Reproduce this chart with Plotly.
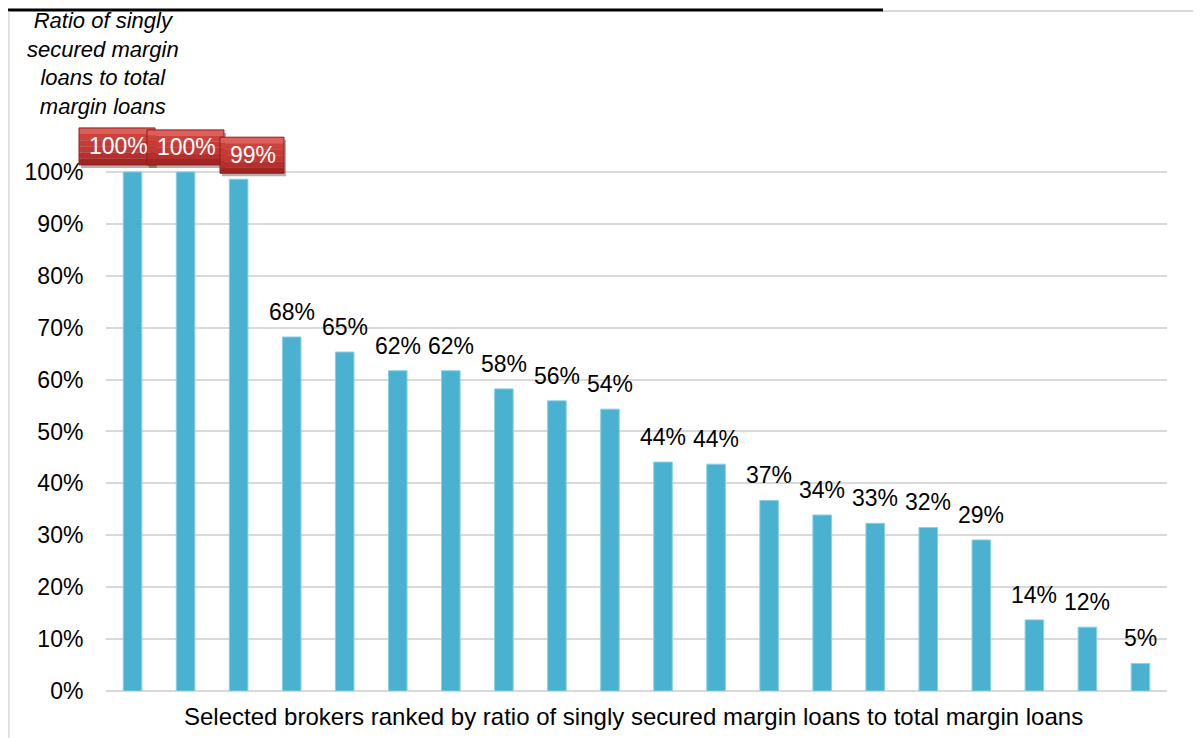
import plotly.graph_objects as go

brokers = [f"Broker {i}" for i in range(1, 21)]
ratios = [100, 100, 98.6, 68.2, 65.3, 61.7, 61.7, 58.2, 55.9, 54.3,
          44.1, 43.7, 36.7, 33.9, 32.3, 31.5, 29.1, 13.7, 12.3, 5.3]
labels = ["100%", "100%", "99%", "68%", "65%", "62%", "62%", "58%", "56%", "54%",
          "44%", "44%", "37%", "34%", "33%", "32%", "29%", "14%", "12%", "5%"]
highlight = [0, 1, 2]

y_ticks = list(range(0, 101, 10))
y_ticktext = [f"{v}%" for v in y_ticks]

FONT = "Liberation Sans, Arial, sans-serif"
TXT = 23

# callout box geometry (pixel offsets relative to bar centre / bar top)
box_x = [(-53.5, 22.5), (-38.6, 38.4), (-18.6, 45.4)]
box_y = [(7, 44), (7, 42), (6, 42)]

fig = go.Figure()
fig.add_trace(go.Bar(
    x=brokers, y=ratios,
    marker=dict(color="#4BB1D0", line=dict(color="#8ccfe4", width=1)),
    width=0.35,
    hoverinfo="skip",
    cliponaxis=False,
))

annotations = []
shapes = []
band_cols = ["#dc5f5a", "#cd423d", "#c73b37", "#c13834", "#b5302c", "#9f2622"]
n_cat = len(brokers)
for i, (b, v, t) in enumerate(zip(brokers, ratios, labels)):
    if i in highlight:
        k = highlight.index(i)
        x0, x1 = box_x[k]
        y0, y1 = box_y[k]
        # category centre expressed as a fraction of the x domain (range -0.5 .. n-0.5)
        xa = (i + 0.5) / n_cat
        common = dict(xref="x domain", yref="y", xsizemode="pixel", ysizemode="pixel",
                      xanchor=xa, yanchor=v, layer="above")
        # shadow
        shapes.append(dict(type="rect", x0=x0 + 2, x1=x1 + 2, y0=y0 - 3, y1=y1 - 3,
                           fillcolor="rgba(60,20,20,0.35)", line=dict(width=0), **common))
        # gradient bands
        n = len(band_cols)
        h = (y1 - y0) / n
        for j, c in enumerate(band_cols):
            shapes.append(dict(type="rect", x0=x0, x1=x1,
                               y0=y1 - (j + 1) * h, y1=y1 - j * h,
                               fillcolor=c, line=dict(width=0), **common))
        shapes.append(dict(type="rect", x0=x0, x1=x1, y0=y0, y1=y1,
                           fillcolor="rgba(0,0,0,0)", line=dict(color="#8e1f1b", width=1),
                           **common))
        annotations.append(dict(
            x=b, y=v, xref="x", yref="y", text=t, showarrow=False,
            yanchor="middle", xanchor="center",
            yshift=(y0 + y1) / 2, xshift=(x0 + x1) / 2 + 1,
            font=dict(family=FONT, size=TXT, color="white"),
        ))
    else:
        annotations.append(dict(
            x=b, y=v, xref="x", yref="y", text=t, showarrow=False,
            yanchor="middle", yshift=25,
            font=dict(family=FONT, size=TXT, color="black"),
        ))

annotations.append(dict(
    x=-0.003, y=1.0996, xref="paper", yref="paper",
    text="<i>Ratio of singly<br>secured margin<br>loans to total<br>margin loans</i>",
    showarrow=False, xanchor="center", yanchor="middle", align="center",
    font=dict(family=FONT, size=22, color="black"),
))
annotations.append(dict(
    x=0.497, y=-0.0455, xref="paper", yref="paper",
    text="Selected brokers ranked by ratio of singly secured margin loans to total margin loans",
    showarrow=False, xanchor="center", yanchor="middle",
    font=dict(family=FONT, size=24, color="black"),
))

shapes += [
    dict(type="line", xref="paper", yref="paper", x0=-0.1, x1=0.7323, y0=1.1928, y1=1.1928,
         line=dict(color="black", width=3)),
    dict(type="line", xref="paper", yref="paper", x0=0.7323, x1=1.13, y0=1.191, y1=1.191,
         line=dict(color="#d9d9d9", width=2)),
    dict(type="line", xref="paper", yref="paper", x0=-0.0915, x1=-0.0915, y0=-0.2, y1=1.19,
         line=dict(color="#d9d9d9", width=1.5)),
]

# the page body has an 8px margin; the figure is sized to fit the window exactly
fig.update_layout(
    width=1193, height=730,
    margin=dict(l=98, r=34, t=112, b=47, autoexpand=False),
    paper_bgcolor="white", plot_bgcolor="white",
    showlegend=False,
    annotations=annotations,
    shapes=shapes,
    xaxis=dict(range=[-0.5, n_cat - 0.5], autorange=False,
               showticklabels=False, showgrid=False, zeroline=False, showline=False, ticks=""),
    yaxis=dict(range=[0, 110], autorange=False, tickvals=y_ticks, ticktext=y_ticktext,
               showgrid=True, gridcolor="#d9d9d9", gridwidth=1.5,
               zeroline=True, zerolinecolor="#d9d9d9", zerolinewidth=1.5,
               showline=False, ticks="outside", ticklen=17, tickcolor="rgba(0,0,0,0)",
               automargin=False,
               tickfont=dict(family=FONT, size=TXT, color="black")),
)

fig.write_html("out.html")
